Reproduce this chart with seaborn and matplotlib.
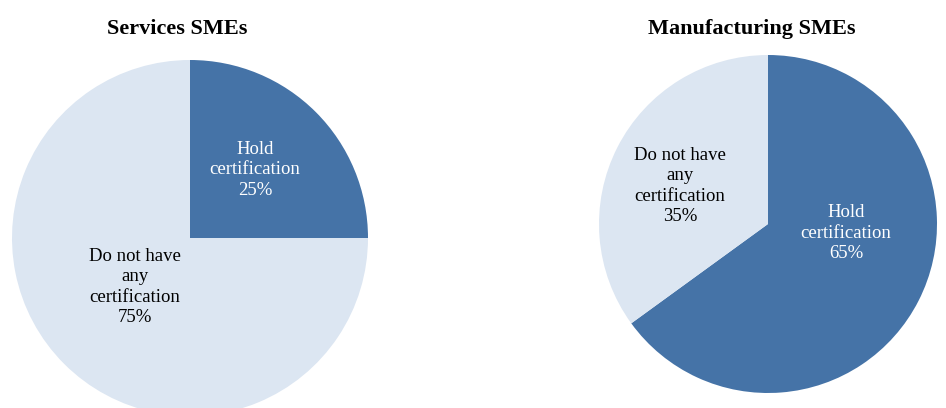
import matplotlib
matplotlib.use("Agg")
import matplotlib.pyplot as plt
import seaborn as sns

# Survey shares of SMEs holding a certification
groups = ["Services SMEs", "Manufacturing SMEs"]
categories = ["Hold\ncertification", "Do not have\nany\ncertification"]
services_pct = [25, 75]
manufacturing_pct = [65, 35]

colors = ["#4573A7", "#DCE6F2"]
text_colors = ["white", "black"]

sns.set_theme(style="white")
plt.rcParams["font.family"] = ["Liberation Serif", "DejaVu Serif"]

W, H = 946, 408
fig = plt.figure(figsize=(W / 100, H / 100), dpi=100)
ax = fig.add_axes([0, 0, 1, 1])
ax.set_xlim(0, W)
ax.set_ylim(0, H)
ax.set_aspect("equal")
ax.axis("off")

# pie layouts in pixel space (y measured from the top)
layouts = [
    dict(center=(190, 238), radius=178, title_xy=(177, 29),
         label_xy=[(255, 170), (135, 287)]),
    dict(center=(768, 224), radius=169, title_xy=(752, 29),
         label_xy=[(846, 233), (680, 186)]),
]

for name, values, lay in zip(groups, [services_pct, manufacturing_pct], layouts):
    cx, cy = lay["center"]
    ax.pie(values, colors=colors, startangle=90, counterclock=False,
           center=(cx, H - cy), radius=lay["radius"],
           wedgeprops=dict(linewidth=0), frame=True)
    tx, ty = lay["title_xy"]
    ax.text(tx, H - ty, name, ha="center", va="center",
            fontsize=16, fontweight="bold", color="black")
    for cat, val, (lx, ly), tc in zip(categories, values, lay["label_xy"], text_colors):
        ax.text(lx, H - ly, f"{cat}\n{val}%", ha="center", va="center",
                fontsize=13.5, color=tc, linespacing=1.25)

ax.set_xlim(0, W)
ax.set_ylim(0, H)
ax.axis("off")
fig.savefig("out.png", dpi=100)
